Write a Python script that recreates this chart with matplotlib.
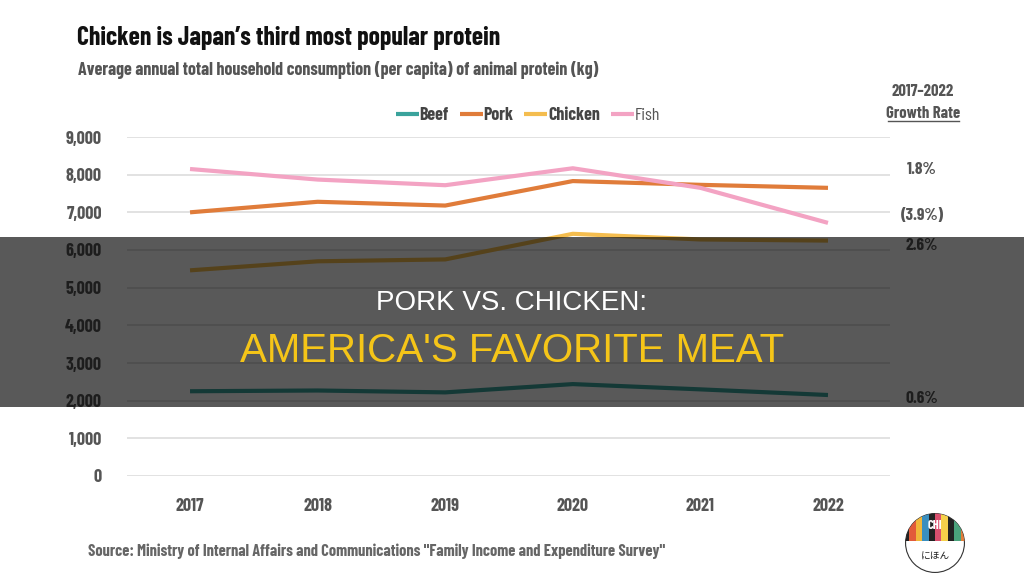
import matplotlib
matplotlib.use("Agg")
import matplotlib.pyplot as plt
from matplotlib.patches import Rectangle, Circle
from matplotlib import font_manager

years = [2017, 2018, 2019, 2020, 2021, 2022]
beef = [2250, 2270, 2220, 2440, 2300, 2150]
pork = [7000, 7280, 7180, 7830, 7730, 7650]
chicken = [5460, 5700, 5750, 6430, 6280, 6250]
fish = [8150, 7870, 7720, 8170, 7650, 6720]
series_names = ["Beef", "Pork", "Chicken", "Fish"]
series_colors = ["#3aa39c", "#e07c3a", "#f4bd4f", "#f3a3c3"]
growth_labels = ["1.8%", "(3.9%)", "2.6%", "0.6%"]
growth_label_pos = [8150, 6920, 6120, 2050]
y_ticks = [0, 1000, 2000, 3000, 4000, 5000, 6000, 7000, 8000, 9000]

names = {f.name for f in font_manager.fontManager.ttflist}

def pick(prefs):
    for p in prefs:
        if p in names:
            return p
    return "DejaVu Sans"

din = pick(["Barlow Condensed", "Barlow Semi Condensed", "Roboto Condensed", "IBM Plex Sans Condensed",
            "Open Sans Condensed", "Liberation Sans Narrow"])
arial = pick(["Liberation Sans", "Arimo", "DejaVu Sans"])
plt.rcParams['font.family'] = [din, 'DejaVu Sans']

W, H = 1024, 576
fig = plt.figure(figsize=(W / 100, H / 100), dpi=100)
fig.patch.set_facecolor("white")

def fx(px):
    return px / W

def fy(py):
    return 1 - py / H

ax = fig.add_axes([fx(127), fy(476), fx(890) - fx(127), fy(137) - fy(476)])
ax.set_xlim(2016.506, 2022.486)
ax.set_ylim(0, 9000)
for s in ax.spines.values():
    s.set_visible(False)
ax.set_yticks(y_ticks)
ax.set_yticklabels([f"{v:,}" for v in y_ticks])
ax.set_xticks(years)
ax.set_xticklabels([str(y) for y in years])
ax.tick_params(length=0, labelsize=13, labelcolor="#555555")
ax.tick_params(axis='y', pad=18)
ax.tick_params(axis='x', pad=16)
for lab in ax.get_yticklabels() + ax.get_xticklabels():
    lab.set_fontweight("bold")
ax.grid(axis='y', color="#dddddd", linewidth=1.2)
ax.set_axisbelow(True)

data = [beef, pork, chicken, fish]
handles = []
for vals, name, col in zip(data, series_names, series_colors):
    h, = ax.plot(years, vals, color=col, linewidth=3, label=name, solid_capstyle='butt')
    handles.append(h)

leg = fig.legend(handles=handles, loc="center", bbox_to_anchor=(fx(528), fy(116)),
                 ncol=4, frameon=False, fontsize=13, handlelength=1.27,
                 handletextpad=0.05, columnspacing=0.6, borderpad=0, borderaxespad=0)
for t in leg.get_texts():
    t.set_color("#444444")
    t.set_fontweight("bold")
leg.get_texts()[-1].set_fontweight("normal")
leg.get_texts()[-1].set_color("#555555")

# Title / subtitle
fig.text(fx(77), fy(45), "Chicken is Japan\u2019s third most popular protein",
         fontsize=18.5, fontweight="bold", color="#111111", va="baseline", ha="left")
fig.text(fx(78), fy(75), "Average annual total household consumption (per capita) of animal protein (kg)",
         fontsize=13, fontweight="bold", color="#555555", va="baseline", ha="left")

# Growth rate column
fig.text(fx(923), fy(92), "2017\u20132022", fontsize=12, fontweight="bold",
         color="#555555", ha="center", va="center")
fig.text(fx(923), fy(113), "Growth Rate", fontsize=12, fontweight="bold",
         color="#555555", ha="center", va="center")
fig.add_artist(plt.Line2D([fx(888), fx(959)], [fy(121), fy(121)], color="#555555", linewidth=1))
for lab, v in zip(growth_labels, growth_label_pos):
    yy = ax.transData.transform((2022, v))[1] / H
    fig.text(fx(922), yy, lab, fontsize=12.5, fontweight="bold", color="#555555",
             ha="center", va="center")

# Source
fig.text(fx(88), fy(551), 'Source: Ministry of Internal Affairs and Communications "Family Income and Expenditure Survey"',
         fontsize=11.8, fontweight="bold", color="#666666", ha="left", va="center")

# Logo (simple approximation)
logo_ax = fig.add_axes([fx(903), fy(575), fx(64), 64 / H])
logo_ax.set_xlim(-1, 1)
logo_ax.set_ylim(-1, 1)
logo_ax.set_aspect("equal")
logo_ax.axis("off")
circ = Circle((0, 0), 0.92, facecolor="white", edgecolor="#333333", linewidth=0.8)
logo_ax.add_patch(circ)
stripe_cols = ["#222222", "#e25b3a", "#f0b73a", "#3a8fbf", "#222222", "#d94f6e", "#f5d04a", "#222222", "#4aa37c", "#e07c3a"]
for i, c in enumerate(stripe_cols):
    r = Rectangle((-1 + i * 0.2, 0.05), 0.2, 1.0, facecolor=c, edgecolor="none")
    r.set_clip_path(circ)
    logo_ax.add_patch(r)
logo_ax.text(0, 0.55, "CHI", fontsize=9, fontweight="bold", color="white", ha="center", va="center")
logo_ax.text(0, -0.42, "にほん", fontsize=7, color="#222222", ha="center", va="center",
             family=["Noto Sans CJK JP", "DejaVu Sans"])

# Banner overlay
fig.add_artist(Rectangle((0, fy(407)), 1, fy(237) - fy(407), transform=fig.transFigure,
                         facecolor="black", alpha=0.65, edgecolor="none", zorder=10))
fig.text(0.5, fy(310), "PORK VS. CHICKEN:", fontsize=20, color="white",
         ha="center", va="baseline", zorder=11, family=[arial, "DejaVu Sans"])
fig.text(0.5, fy(362), "AMERICA'S FAVORITE MEAT", fontsize=29, color="#f5c518",
         ha="center", va="baseline", zorder=11, family=[arial, "DejaVu Sans"])

fig.savefig("out.png", dpi=100, facecolor="white")
